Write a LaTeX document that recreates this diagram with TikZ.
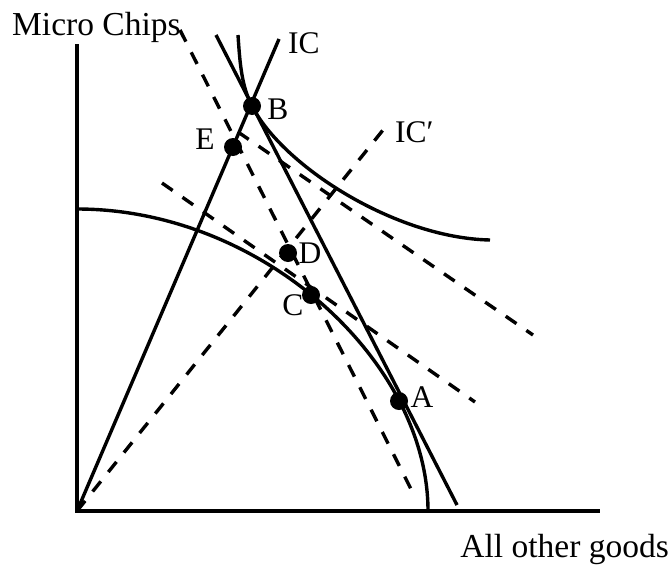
\documentclass[tikz,border=0pt]{standalone}
\usepackage{fontspec}
\setmainfont{Liberation Serif}
\begin{document}
\begin{tikzpicture}[x=1pt,y=-1pt,
  solidline/.style={line width=3.4pt},
  dashline/.style={line width=3.4pt, dash pattern=on 13pt off 12pt},
  dot/.style={circle, fill=black, inner sep=0pt, minimum size=18pt},
  lbl/.style={inner sep=0pt, font=\fontsize{31.5}{31.5}\selectfont},
  axlbl/.style={inner sep=0pt, font=\fontsize{33.5}{33.5}\selectfont}]
\useasboundingbox (0,0) rectangle (671,565);
% axes
\coordinate (O) at (77,511);
\coordinate (Ytop) at (77,46);
\coordinate (Xend) at (598,511);
\draw[solidline, line cap=rect] (Ytop) -- (O) -- (Xend);
\node[axlbl, anchor=base west] (ylab) at (12,35) {Micro Chips};
\node[axlbl, anchor=base east] (xlab) at (669,557) {All other goods};
% ends of lines
\coordinate (R1top) at (279,39);
\coordinate (R2top) at (383,130);
\coordinate (BLtop) at (216,35);
\coordinate (BLend) at (457,505);
\coordinate (D1top) at (180,30);
\coordinate (D1end) at (415,497);
\coordinate (D2start) at (238,132);
\coordinate (D2end) at (533,335);
\coordinate (D3start) at (162,183);
\coordinate (D3end) at (475,402);
\coordinate (ICtop) at (238,35);
\coordinate (ICend) at (490,240);
\coordinate (PPFtop) at (77,209);
\coordinate (PPFend) at (428,511);
% points
\node[dot] (B) at (252,106) {};
\node[dot] (E) at (233,147) {};
\node[dot] (D) at (288,253) {};
\node[dot] (C) at (311,295) {};
\node[dot] (A) at (399,401) {};
% solid lines
\draw[solidline] (O) -- (R1top);
\draw[solidline] (BLtop) -- (BLend);
% indifference curve IC
\draw[solidline] (ICtop) .. controls (240,65) and (241.7,86) .. (B.center)
  .. controls (282.8,166) and (395,238) .. (ICend);
% production possibility frontier
\draw[solidline] (PPFtop) .. controls (263,209) and (428,362) .. (PPFend);
% dashed lines
\draw[dashline] (O) -- (R2top);
\draw[dashline] (D1top) -- (D1end);
\draw[dashline] (D2start) -- (D2end);
\draw[dashline] (D3start) -- (D3end);
% labels
\node[lbl] (Blab) at (278,109) {B};
\node[lbl] (Elab) at (205,139) {E};
\node[lbl] (Dlab) at (310,253) {D};
\node[lbl] (Clab) at (293,305) {C};
\node[lbl] (Alab) at (422,397) {A};
\node[lbl, anchor=base west] (IClab) at (288,53) {IC};
\node[lbl, anchor=base west] (ICplab) at (395,142) {IC′};
\end{tikzpicture}
\end{document}
